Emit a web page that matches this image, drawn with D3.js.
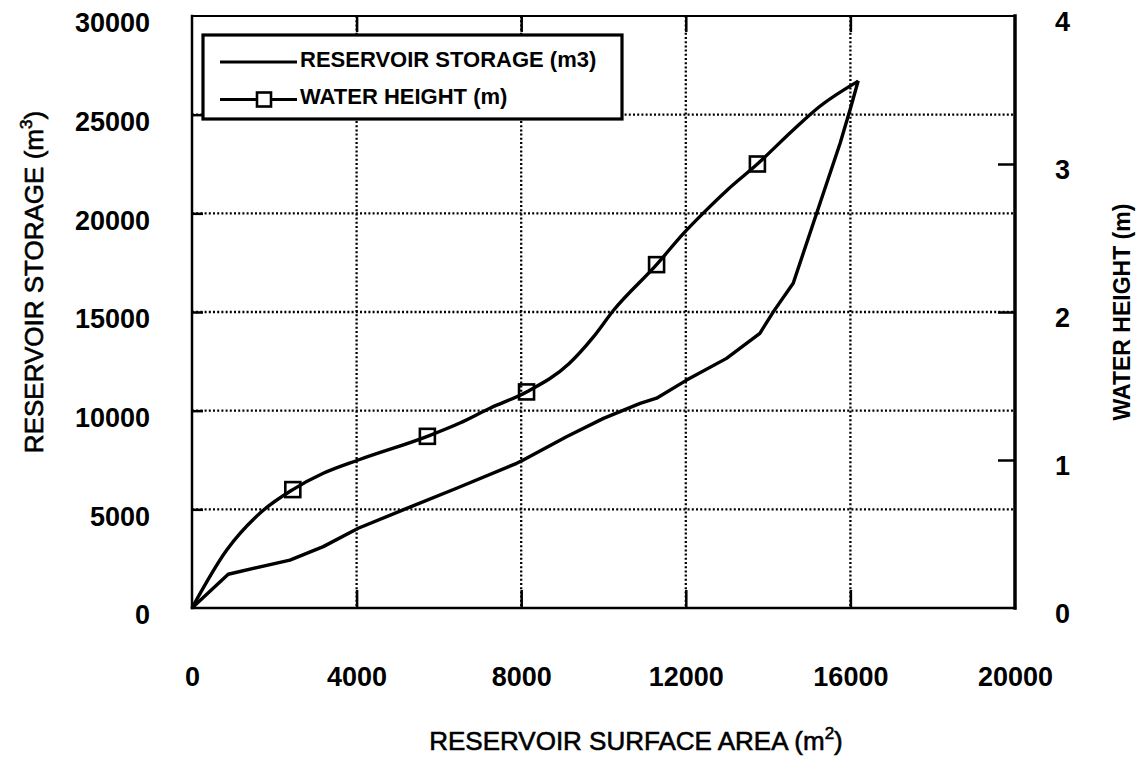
<!DOCTYPE html>
<html>
<head>
<meta charset="utf-8">
<script src="https://cdn.jsdelivr.net/npm/d3@7"></script>
<style>
  body { margin: 0; background: #fff; }
  svg text { font-family: "Liberation Sans", Arial, Helvetica, sans-serif; fill: #000; }
</style>
</head>
<body>
<svg id="chart" width="1140" height="759"></svg>
<script>
// storage curve (left axis) vs surface area
var storageArea = [0, 880, 2380, 3190, 4040, 5220, 6430, 7890, 8050, 9100, 10000, 10890, 11290, 12020, 12990, 13800, 14130, 14610, 15180, 15750, 15990, 16190];
var storageValues = [0, 1710, 2430, 3110, 4040, 5050, 6070, 7330, 7500, 8680, 9610, 10370, 10630, 11550, 12650, 13920, 15020, 16460, 20000, 23550, 25240, 26720];

// water height curve (right axis) vs surface area
var heightArea = [0, 840, 1690, 2450, 3190, 4040, 5720, 6510, 7240, 8130, 9160, 9750, 10240, 11290, 11940, 12430, 12990, 13740, 14610, 15260, 16190];
var heightValues = [0, 0.39, 0.65, 0.80, 0.91, 1.00, 1.16, 1.25, 1.35, 1.46, 1.65, 1.83, 2.01, 2.32, 2.53, 2.67, 2.82, 3.00, 3.23, 3.39, 3.56];

// square markers along the water height curve
var markerArea = [2450, 5720, 8130, 11290, 13740];
var markerHeight = [0.80, 1.16, 1.46, 2.32, 3.00];

var xTicks = [0, 4000, 8000, 12000, 16000, 20000];
var yTicks = [0, 5000, 10000, 15000, 20000, 25000, 30000];
var y2Ticks = [0, 1, 2, 3, 4];

var legendLabels = ["RESERVOIR STORAGE (m3)", "WATER HEIGHT (m)"];

var svg = d3.select("#chart"),
    plotLeft = 192, plotRight = 1015, plotTop = 16, plotBottom = 608;

var x = d3.scaleLinear().domain([0, 20000]).range([plotLeft, plotRight]);
var y = d3.scaleLinear().domain([0, 30000]).range([plotBottom, plotTop]);
var y2 = d3.scaleLinear().domain([0, 4]).range([plotBottom, plotTop]);

// dotted grid
var grid = svg.append("g")
    .attr("stroke", "#000")
    .attr("stroke-width", 2.3)
    .attr("stroke-dasharray", "2,2.2");

grid.selectAll(".vgrid")
  .data(xTicks.slice(1, -1))
  .enter().append("line")
    .attr("x1", function(d) { return x(d); })
    .attr("x2", function(d) { return x(d); })
    .attr("y1", plotTop)
    .attr("y2", plotBottom);

grid.selectAll(".hgrid")
  .data(yTicks.slice(1, -1))
  .enter().append("line")
    .attr("x1", plotLeft)
    .attr("x2", plotRight)
    .attr("y1", function(d) { return y(d); })
    .attr("y2", function(d) { return y(d); });

// axes
var fontTick = "27px";

var gLeft = svg.append("g")
    .attr("transform", "translate(" + plotLeft + ",0)")
    .call(d3.axisLeft(y).tickValues(yTicks).tickSize(-11).tickPadding(42).tickFormat(d3.format("d")));

var gBottom = svg.append("g")
    .attr("transform", "translate(0," + plotBottom + ")")
    .call(d3.axisBottom(x).tickValues(xTicks).tickSize(-18).tickPadding(59).tickFormat(d3.format("d")));

var gTop = svg.append("g")
    .attr("transform", "translate(0," + plotTop + ")")
    .call(d3.axisTop(x).tickValues(xTicks.slice(1, -1)).tickSize(-16).tickFormat(""));

var gRight = svg.append("g")
    .attr("transform", "translate(" + plotRight + ",0)")
    .call(d3.axisRight(y2).tickValues(y2Ticks).tickSize(-17).tickPadding(40).tickFormat(d3.format("d")));

[gLeft, gBottom, gTop, gRight].forEach(function(g) {
  g.select(".domain").remove();
  g.selectAll(".tick line").attr("stroke", "#000").attr("stroke-width", 2.5);
  g.selectAll(".tick text")
    .attr("font-family", "Liberation Sans, Arial, sans-serif")
    .attr("font-size", fontTick)
    .attr("font-weight", "bold")
    .attr("fill", "#000");
});
gLeft.selectAll(".tick text").attr("dy", "0.58em");
gRight.selectAll(".tick text").attr("dy", "0.55em");
gRight.selectAll(".tick").filter(function(d) { return d === 0 || d === 4; }).select("line").remove();
gLeft.selectAll(".tick").filter(function(d) { return d === 0 || d === 30000; }).select("line").remove();
gBottom.selectAll(".tick").filter(function(d) { return d === 0 || d === 20000; }).select("line").remove();

// frame
var frame = svg.append("g").attr("stroke", "#000").attr("stroke-linecap", "square");
frame.append("line").attr("x1", plotLeft).attr("x2", plotLeft).attr("y1", plotTop).attr("y2", plotBottom).attr("stroke-width", 2.5);
frame.append("line").attr("x1", plotLeft).attr("x2", plotRight).attr("y1", plotBottom).attr("y2", plotBottom).attr("stroke-width", 2.5);
frame.append("line").attr("x1", plotRight).attr("x2", plotRight).attr("y1", plotTop).attr("y2", plotBottom).attr("stroke-width", 3.5);
frame.append("line").attr("x1", plotLeft).attr("x2", plotRight).attr("y1", plotTop).attr("y2", plotTop).attr("stroke-width", 2);

// curves (storage has a sharp kink near the origin, keep it linear)
var storageLine = d3.line()
    .x(function(d, i) { return x(storageArea[i]); })
    .y(function(d) { return y(d); });

var heightLine = d3.line()
    .curve(d3.curveMonotoneX)
    .x(function(d, i) { return x(heightArea[i]); })
    .y(function(d) { return y2(d); });

svg.append("path")
    .datum(storageValues)
    .attr("d", storageLine)
    .attr("fill", "none")
    .attr("stroke", "#000")
    .attr("stroke-width", 3.4)
    .attr("stroke-linejoin", "round");

svg.append("path")
    .datum(heightValues)
    .attr("d", heightLine)
    .attr("fill", "none")
    .attr("stroke", "#000")
    .attr("stroke-width", 3.4)
    .attr("stroke-linejoin", "round");

var ms = 15;
svg.append("g").selectAll("rect")
  .data(markerHeight)
  .enter().append("rect")
    .attr("x", function(d, i) { return x(markerArea[i]) - ms / 2; })
    .attr("y", function(d) { return y2(d) - ms / 2; })
    .attr("width", ms)
    .attr("height", ms)
    .attr("fill", "none")
    .attr("stroke", "#000")
    .attr("stroke-width", 2.6);

// legend
var legend = svg.append("g");
legend.append("rect")
    .attr("x", 203).attr("y", 35)
    .attr("width", 419).attr("height", 84)
    .attr("fill", "#fff")
    .attr("stroke", "#000")
    .attr("stroke-width", 3.2);

var rowY = [62, 99.5];
legend.selectAll(".lline")
  .data(legendLabels)
  .enter().append("line")
    .attr("x1", 220).attr("x2", 297)
    .attr("y1", function(d, i) { return rowY[i]; })
    .attr("y2", function(d, i) { return rowY[i]; })
    .attr("stroke", "#000")
    .attr("stroke-width", 3.2);

legend.append("rect")
    .attr("x", 264 - 7).attr("y", rowY[1] - 7)
    .attr("width", 14).attr("height", 14)
    .attr("fill", "#fff")
    .attr("stroke", "#000")
    .attr("stroke-width", 2.6);

legend.selectAll(".ltext")
  .data(legendLabels)
  .enter().append("text")
    .attr("x", 300)
    .attr("y", function(d, i) { return rowY[i] + 4.5; })
    .attr("font-size", "22px")
    .attr("font-weight", "bold")
    .text(function(d) { return d; });

// axis titles
var xt = svg.append("text")
    .attr("x", 636).attr("y", 750)
    .attr("text-anchor", "middle")
    .attr("font-size", "26px")
    .attr("stroke", "#000")
    .attr("stroke-width", 0.6);
xt.append("tspan").text("RESERVOIR SURFACE AREA (m");
xt.append("tspan").attr("dy", -11).attr("font-size", "17px").text("2");
xt.append("tspan").attr("dy", 11).text(")");

var yt = svg.append("text")
    .attr("transform", "translate(43,282) rotate(-90)")
    .attr("text-anchor", "middle")
    .attr("font-size", "26px")
    .attr("stroke", "#000")
    .attr("stroke-width", 0.6);
yt.append("tspan").text("RESERVOIR STORAGE (m");
yt.append("tspan").attr("dy", -11).attr("font-size", "17px").text("3");
yt.append("tspan").attr("dy", 11).text(")");

svg.append("text")
    .attr("transform", "translate(1130,312) rotate(-90)")
    .attr("text-anchor", "middle")
    .attr("font-size", "23px")
    .attr("font-weight", "bold")
    .text("WATER HEIGHT (m)");
</script>
</body>
</html>
